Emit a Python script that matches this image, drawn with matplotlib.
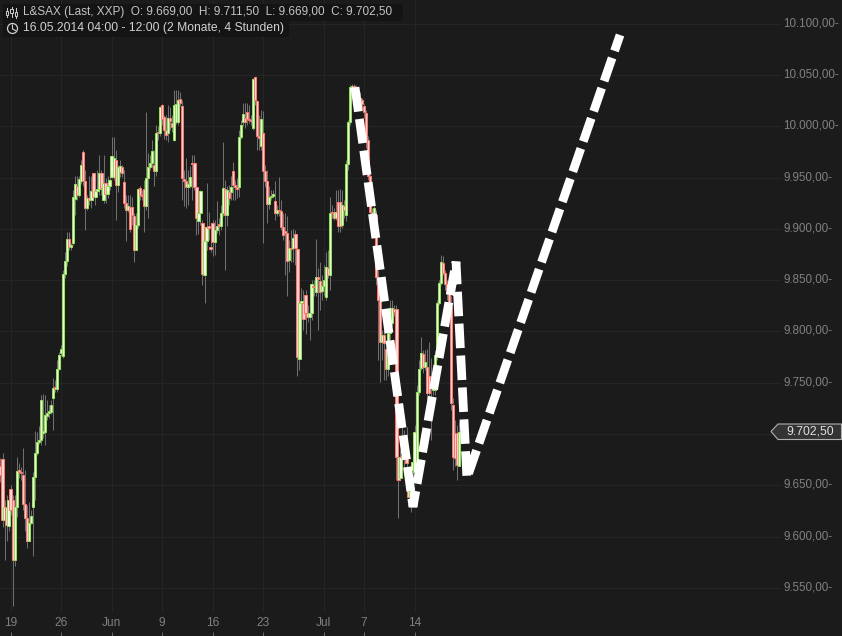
import matplotlib
matplotlib.use("Agg")
import matplotlib.pyplot as plt
from matplotlib.patches import Polygon, Rectangle, Circle
from matplotlib.lines import Line2D
from matplotlib.transforms import Affine2D, ScaledTranslation

plt.rcParams['font.family'] = ['Liberation Sans', 'DejaVu Sans']

opens = [9669,9676,9616,9629,9610,9646,9636,9577,9629,9665,9663,9660,9632,9618,9596,9613,9629,9658,9682,9692,
9694,9701,9702,9718,9721,9722,9735,9745,9744,9763,9779,9776,9856,9869,9890,9882,9886,9929,9942,9933,
9947,9975,9947,9920,9930,9928,9954,9931,9937,9939,9954,9928,9945,9934,9942,9951,9951,9967,9943,9955,
9960,9946,9925,9918,9921,9921,9913,9879,9904,9940,9933,9939,9922,9950,9960,9964,9962,9956,9994,9993,
10021,10009,9996,9993,10008,10003,9987,10004,10004,10027,10020,9949,9947,9941,9942,9964,9964,9941,9908,9915,
9906,9855,9888,9903,9882,9906,9887,9899,9904,9903,9915,9939,9914,9936,9936,9956,9943,9941,9941,9990,
10004,10008,10014,10007,10006,9998,10048,10025,9991,9981,9993,9956,9947,9924,9931,9932,9927,9915,9918,9917,
9902,9898,9896,9870,9881,9881,9895,9880,9773,9828,9828,9836,9818,9814,9818,9844,9838,9853,9849,9839,
9844,9834,9862,9855,9916,9916,9911,9926,9926,9904,9922,9914,9963,10004,10035,10039,10037,10033,10027,10026,
10020,10013,9987,9952,9916,9915,9914,9853,9831,9790,9797,9783,9763,9799,9808,9822,9822,9678,9657,9678,
9677,9677,9645,9639,9665,9663,9673,9741,9764,9778,9765,9765,9757,9757,9743,9743,9777,9828,9847,9867,
9857,9846,9840,9824,9728,9701,9701,9669]

closes = [9660,9616,9629,9611,9636,9626,9577,9629,9664,9663,9662,9632,9618,9596,9613,9620,9658,9682,9692,9694,
9733,9703,9719,9721,9722,9728,9745,9744,9763,9777,9783,9856,9869,9890,9882,9884,9931,9944,9933,9949,
9962,9947,9920,9930,9928,9937,9931,9937,9939,9954,9940,9945,9934,9942,9948,9971,9969,9943,9960,9961,
9954,9925,9918,9922,9900,9914,9879,9904,9939,9933,9932,9922,9950,9960,9964,9976,9956,9993,9993,10019,
10007,9996,9992,10008,10005,9999,10021,10022,10026,10023,9950,9947,9941,9944,9951,9963,9941,9911,9915,9937,
9856,9888,9902,9901,9880,9887,9899,9903,9903,9915,9940,9914,9938,9930,9941,9943,9941,9939,9990,10001,
10012,10004,10007,10006,10005,10046,10026,9991,9989,10007,9956,9947,9924,9931,9932,9934,9915,9918,9917,9902,
9894,9896,9869,9881,9880,9891,9881,9775,9828,9829,9812,9818,9814,9818,9846,9843,9853,9851,9838,9844,
9850,9863,9855,9915,9915,9911,9916,9903,9903,9923,9918,9963,10004,10038,10039,10037,10033,10027,10026,10022,
10014,9987,9952,9916,9914,9920,9853,9831,9790,9797,9789,9763,9799,9823,9823,9819,9678,9655,9678,9677,
9676,9672,9639,9645,9673,9702,9741,9763,9779,9765,9770,9740,9740,9746,9755,9777,9828,9847,9868,9857,
9846,9840,9826,9730,9678,9677,9670,9702.5]

highs = [9677,9682,9636,9641,9642,9650,9641,9641,9678,9672,9668,9686,9665,9631,9634,9626,9663,9703,9702,9708,
9738,9739,9738,9733,9728,9733,9755,9753,9772,9780,9787,9860,9877,9897,9897,9886,9938,9952,9952,9952,
9967,9977,9957,9933,9952,9952,9954,9943,9957,9972,9957,9972,9950,9952,9957,9990,9990,9977,9962,9967,
9962,9957,9933,9933,9933,9931,9915,9915,9940,9942,9938,9948,10014,9974,9972,9987,9977,10001,10000,10020,
10022,10011,10011,10021,10019,10011,10035,10035,10035,10033,10026,9957,9969,9957,9961,9972,9972,9952,9938,9938,
9909,9894,9945,9916,9894,9909,9909,9927,9911,9923,9985,9948,9942,9943,9952,9965,9948,9950,9996,10006,
10023,10023,10023,10021,10011,10047,10048,10026,10011,10016,10015,9962,9957,9942,9938,9938,9947,9923,9951,9928,
9915,9915,9913,9889,9899,9900,9899,9884,9840,9842,9840,9840,9826,9831,9850,9850,9890,9862,9868,9855,
9865,9877,9879,9931,9923,9920,9938,9938,9939,9938,9928,9967,10006,10040,10041,10041,10040,10037,10033,10028,
10022,10016,9991,9957,9920,9923,9918,9860,9835,9801,9801,9792,9806,9831,9831,9826,9826,9684,9684,9709,
9704,9707,9655,9650,9680,9709,9748,9772,9795,9782,9782,9783,9790,9774,9762,9782,9831,9850,9875,9874,
9860,9850,9845,9835,9735,9714,9709,9711.5]

lows = [9653,9609,9577,9596,9606,9621,9532,9571,9619,9657,9655,9626,9606,9589,9596,9612,9581,9636,9680,9690,
9689,9696,9689,9714,9716,9720,9704,9741,9741,9762,9776,9774,9852,9864,9879,9879,9884,9914,9928,9931,
9944,9942,9899,9918,9923,9920,9928,9923,9933,9933,9933,9925,9925,9930,9938,9950,9948,9909,9936,9951,
9951,9920,9888,9916,9897,9904,9868,9879,9901,9928,9928,9897,9918,9911,9957,9959,9942,9952,9987,9991,
10001,9988,9987,9985,9996,9994,9986,10002,10001,10020,9928,9922,9920,9923,9940,9928,9938,9894,9895,9904,
9845,9828,9879,9889,9877,9874,9875,9896,9894,9899,9913,9860,9903,9923,9928,9928,9928,9930,9931,9988,
10000,9998,10001,10003,10001,9996,10021,9977,9977,9977,9886,9941,9906,9919,9928,9930,9909,9913,9913,9899,
9889,9855,9835,9858,9868,9868,9865,9757,9762,9811,9801,9798,9809,9792,9811,9835,9835,9801,9821,9831,
9835,9831,9852,9840,9911,9909,9909,9897,9897,9901,9911,9908,9957,10001,10033,10030,10027,10022,10020,10016,
10008,9979,9948,9909,9907,9912,9845,9772,9751,9772,9753,9753,9757,9792,9805,9815,9655,9618,9655,9660,
9665,9660,9633,9624,9655,9655,9665,9738,9762,9760,9762,9733,9714,9694,9738,9738,9772,9826,9845,9855,
9840,9831,9821,9723,9665,9669,9655,9669]

path_index = [175.5, 204.2, 225.5, 230.9, 306.7]
path_price = [10038, 9629, 9868, 9657, 10089]

y_ticks = [9550,9600,9650,9700,9750,9800,9850,9900,9950,10000,10050,10100]
y_labels = ['9.550,00-','9.600,00-','9.650,00-','','9.750,00-','9.800,00-','9.850,00-',
            '9.900,00-','9.950,00-','10.000,00-','10.050,00-','10.100,00-']
x_ticks = [5,30,55,80,105,130,160,180,205]
x_labels = ['19','26','Jun','9','16','23','Jul','7','14']

BG = '#1b1b1b'
W, H = 842, 636
fig = plt.figure(figsize=(W/100, H/100), dpi=100, facecolor=BG)
pix = Affine2D().scale(1/W, -1/H).translate(0, 1) + fig.transFigure

RIGHT = 782
BOTTOM = 613
x_lim = (-0.2475, (RIGHT-0.5)/2.02)
ax = fig.add_axes([0, 1-BOTTOM/H, RIGHT/W, BOTTOM/H], facecolor=BG)
ax.set_xlim(*x_lim)
ax.set_ylim(9525.6, 10123.1)
for s in ax.spines.values():
    s.set_visible(False)
ax.set_xticks(x_ticks)
ax.tick_params(axis='x', length=0, labelbottom=False)
ax.yaxis.tick_right()
ax.set_yticks(y_ticks)
ax.set_yticklabels(y_labels)
ax.tick_params(axis='y', length=0, pad=1, labelsize=8.4, labelcolor='#808080')
shift = ScaledTranslation(0, 2/100, fig.dpi_scale_trans)
for t in ax.get_yticklabels():
    t.set_transform(t.get_transform() + shift)
ax.grid(True, color='#252525', linewidth=0.75, zorder=0)
ax.set_axisbelow(True)

xs = list(range(len(closes)))
ax.vlines(xs, lows, highs, color='#6f6f6f', linewidth=0.75, zorder=2)
for i, (o, c) in enumerate(zip(opens, closes)):
    up = c >= o
    ax.bar(i, abs(c-o) if abs(c-o) > 1 else 1.5, bottom=min(o, c), width=1.1,
           facecolor='#f2ffe4' if up else '#ffd4d0',
           edgecolor='#90e058' if up else '#f87870',
           linewidth=0.75, zorder=3)

ax.plot(path_index, path_price, color='white', linewidth=6.3,
        linestyle=(0, (2.8, 0.85)), dash_capstyle='butt', dash_joinstyle='bevel', zorder=5)

# time strip
sax = fig.add_axes([0, 0, RIGHT/W, 1-BOTTOM/H], facecolor=BG)
sax.set_xlim(*x_lim)
sax.set_ylim(0, 1)
sax.set_yticks([])
for s in sax.spines.values():
    s.set_visible(False)
sax.set_xticks(x_ticks)
sax.set_xticklabels(x_labels)
sax.tick_params(axis='x', direction='in', length=3, width=0.75, color='#666666',
                labelcolor='#808080', labelsize=8.6, pad=-14)

# header boxes and texts
fig.add_artist(Rectangle((3, 4), 400, 17, transform=pix, facecolor='#141414', edgecolor='none'))
fig.add_artist(Rectangle((3, 21), 286, 16, transform=pix, facecolor='#141414', edgecolor='none'))
fig.text(23/W, 1-12.5/H, 'L&SAX (Last, XXP)  O: 9.669,00  H: 9.711,50  L: 9.669,00  C: 9.702,50',
         color='#c4c4c4', fontsize=8.5, va='center', ha='left')
fig.text(23/W, 1-28/H, '16.05.2014 04:00 - 12:00 (2 Monate, 4 Stunden)',
         color='#d0d0d0', fontsize=8.7, va='center', ha='left')

# header icons
for gx, y0, y1, by0, by1 in [(7, 8, 17, 11, 15), (11.5, 7, 17, 9, 13), (16, 8, 18, 12, 16)]:
    fig.add_artist(Line2D([gx, gx], [y0, y1], transform=pix, color='#c8c8c8', linewidth=0.75))
    fig.add_artist(Rectangle((gx-1.2, by0), 2.4, by1-by0, transform=pix, facecolor='#141414',
                             edgecolor='#c8c8c8', linewidth=0.75, zorder=3))
fig.add_artist(Circle((12.5, 28.5), 5, transform=pix, facecolor='none', edgecolor='#d0d0d0', linewidth=0.9))
fig.add_artist(Line2D([12.5, 12.5, 15.5], [25, 29, 30.5], transform=pix, color='#d0d0d0', linewidth=0.8))

# last price tag
fig.add_artist(Polygon([(771, 431.5), (778, 424), (841.5, 424), (841.5, 439.5), (778, 439.5)], closed=True,
                       transform=pix, facecolor='#343434', edgecolor='#b0b0b0', linewidth=0.8))
fig.text(786/W, 1-431.5/H, '9.702,50', color='#e0e0e0', fontsize=8.8, va='center', ha='left')

fig.savefig('out.png', dpi=100, facecolor=BG)
